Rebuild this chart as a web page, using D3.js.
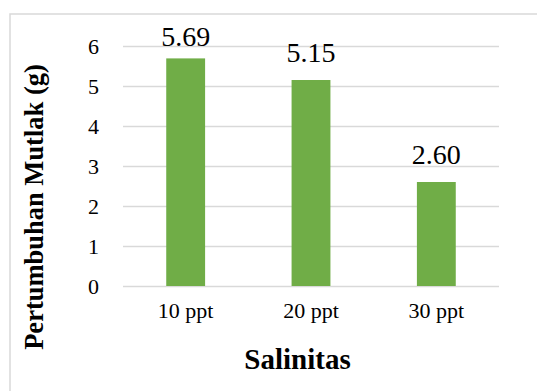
<!DOCTYPE html>
<html>
<head>
<meta charset="utf-8">
<script src="https://cdn.jsdelivr.net/npm/d3@7"></script>
<style>
  html, body { margin: 0; padding: 0; background: #fff; }
  svg { display: block; }
</style>
</head>
<body>
<svg id="chart" width="537" height="391"></svg>
<script>
// Absolute growth per salinity level
const categories = ["10 ppt", "20 ppt", "30 ppt"];
const growth = [5.69, 5.15, 2.60];
const yTicks = [0, 1, 2, 3, 4, 5, 6];
const yTitle = "Pertumbuhan Mutlak (g)";
const xTitle = "Salinitas";

const SERIF = "Liberation Serif";

const svg = d3.select("#chart");
const plot = { left: 123, right: 499, top: 46, bottom: 286 };

const x = d3.scaleBand()
  .domain(categories)
  .range([plot.left, plot.right])
  .paddingInner(0.69)
  .paddingOuter(0.345);

const y = d3.scaleLinear()
  .domain([0, 6])
  .range([plot.bottom, plot.top]);

// chart frame (top and left edges)
svg.append("path")
  .attr("d", "M10,391 V14 H537")
  .attr("fill", "none")
  .attr("stroke", "#d9d9d9")
  .attr("stroke-width", 1.5);

// horizontal gridlines with value labels
const yAxis = d3.axisLeft(y)
  .tickValues(yTicks)
  .tickFormat(d3.format("d"))
  .tickSize(-(plot.right - plot.left))
  .tickPadding(24);

const gy = svg.append("g")
  .attr("transform", `translate(${plot.left},0)`)
  .call(yAxis);
gy.select(".domain").remove();
gy.selectAll(".tick line")
  .attr("stroke", "#d9d9d9")
  .attr("stroke-width", 1.5);
gy.selectAll(".tick text")
  .style("font-family", SERIF)
  .style("font-size", "22px")
  .attr("fill", "#000")
  .attr("dy", "0.34em");

// category labels
const xAxis = d3.axisBottom(x).tickSize(0).tickPadding(16);
const gx = svg.append("g")
  .attr("transform", `translate(0,${plot.bottom})`)
  .call(xAxis);
gx.select(".domain").remove();
gx.selectAll(".tick text")
  .style("font-family", SERIF)
  .style("font-size", "22px")
  .attr("fill", "#000");

// bars
svg.append("g")
  .selectAll("rect")
  .data(growth)
  .join("rect")
  .attr("x", (d, i) => x(categories[i]))
  .attr("y", d => y(d))
  .attr("width", x.bandwidth())
  .attr("height", d => y(0) - y(d))
  .attr("fill", "#70ad47");

// value labels above bars, kept inside the plot area
svg.append("g")
  .selectAll("text")
  .data(growth)
  .join("text")
  .attr("x", (d, i) => x(categories[i]) + x.bandwidth() / 2)
  .attr("y", d => Math.max(y(d) - 18.5, plot.top))
  .attr("text-anchor", "middle")
  .style("font-family", SERIF)
  .style("font-size", "28px")
  .attr("fill", "#000")
  .text(d => d.toFixed(2));

// axis titles
svg.append("text")
  .attr("transform", `translate(43,207) rotate(-90)`)
  .attr("text-anchor", "middle")
  .style("font-family", SERIF)
  .style("font-size", "26.5px")
  .style("font-weight", "bold")
  .attr("fill", "#000")
  .text(yTitle);

svg.append("text")
  .attr("x", 297.5)
  .attr("y", 369)
  .attr("text-anchor", "middle")
  .style("font-family", SERIF)
  .style("font-size", "29px")
  .style("font-weight", "bold")
  .attr("fill", "#000")
  .text(xTitle);
</script>
</body>
</html>
